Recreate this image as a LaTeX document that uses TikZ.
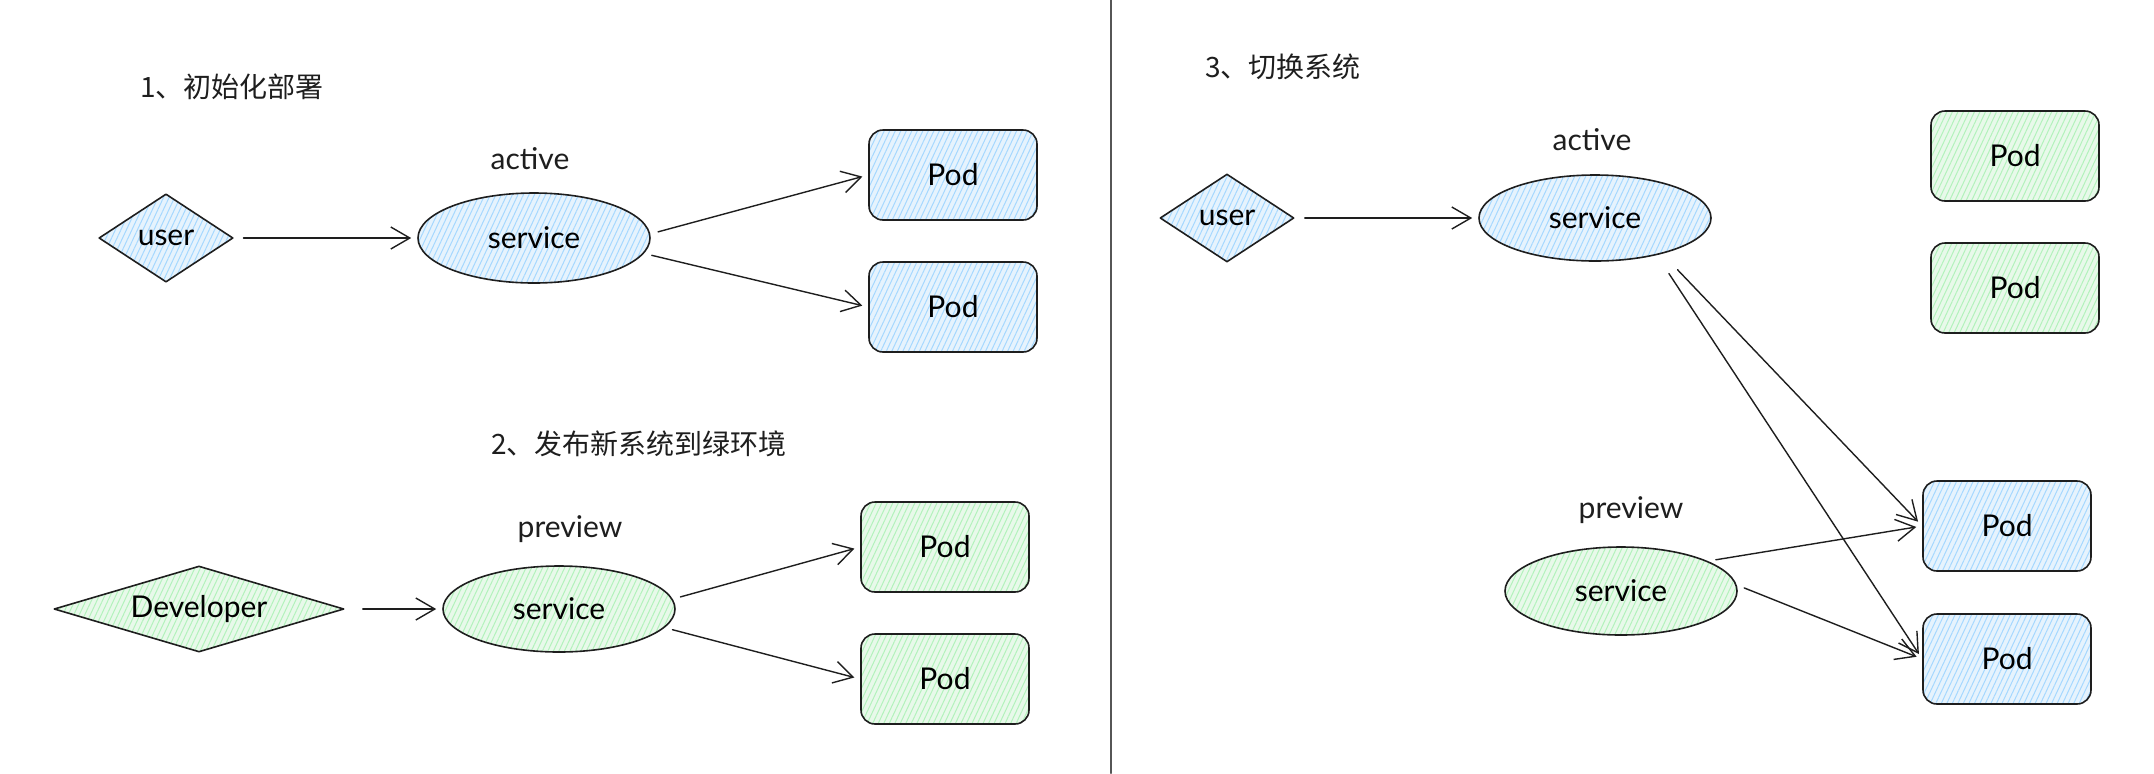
\documentclass[tikz,border=0pt]{standalone}
\usepackage{fontspec}
\setmainfont{Lato}
\newfontfamily\cjk{Noto Sans CJK SC}
\usepackage{tikz}
\usetikzlibrary{arrows.meta,shapes.geometric,patterns.meta}
\definecolor{ink}{HTML}{1E1E1E}
\definecolor{bluebg}{HTML}{E6F3FD}
\definecolor{bluehatch}{HTML}{A5D8FF}
\definecolor{greenbg}{HTML}{E8F9EA}
\definecolor{greenhatch}{HTML}{B2F2BB}
\tikzset{
  bluefill/.style={preaction={fill=bluebg}, pattern={Lines[angle=65,distance=2.5pt,line width=0.5pt]}, pattern color=bluehatch},
  greenfill/.style={preaction={fill=greenbg}, pattern={Lines[angle=65,distance=2.5pt,line width=0.5pt]}, pattern color=greenhatch},
  svc/.style={ellipse, draw=ink, line width=0.8pt, minimum width=116pt, minimum height=45pt, inner sep=0pt, font=\fontsize{15}{18}\selectfont},
  pod/.style={rectangle, rounded corners=7pt, draw=ink, line width=0.8pt, minimum width=84pt, minimum height=45pt, font=\fontsize{15}{18}\selectfont},
  usr/.style={diamond, draw=ink, line width=0.8pt, inner sep=0pt, aspect=1.5, minimum width=67pt, minimum height=44pt, font=\fontsize{15}{18}\selectfont},
  lbl/.style={text=ink, font=\fontsize{15}{18}\selectfont},
  ttl/.style={anchor=west, text=ink, font=\cjk\fontsize{14}{17}\selectfont},
  flow/.style={draw=ink, line width=0.7pt, -{Straight Barb[length=9.5pt,width=11pt]}, shorten <=4pt, shorten >=3pt},
  every picture/.style={line cap=round, line join=round}
}

\begin{document}
\begin{tikzpicture}[x=0.5pt, y=-0.5pt]
    \useasboundingbox (0,0) rectangle (2154,773);
    \draw[line width=1pt, draw=ink!75] (1111,0) -- (1111,773);

    % 1
    \node[ttl] (t1) at (133,87) {1、初始化部署};
    \node[usr, bluefill] (user1) at (166,238) {user};
    \node[svc, bluefill] (svc1) at (534,238) {service};
    \node[lbl] (act1) at (530,159) {active};
    \node[pod, bluefill] (pod1a) at (953,175) {Pod};
    \node[pod, bluefill] (pod1b) at (953,307) {Pod};

    \draw[flow, shorten <=5pt] (user1) -- (svc1);
    \draw[flow] (svc1.2) -- (pod1a.west);
    \draw[flow] (svc1.-8) -- (pod1b.west);

    % 2
    \node[ttl] (t2) at (484,444) {2、发布新系统到绿环境};
    \node[usr, greenfill, aspect=3.3, minimum width=145pt, minimum height=43pt] (dev) at (199,609) {Developer};
    \node[svc, greenfill, minimum height=43pt] (svc2) at (559,609) {service};
    \node[lbl] (prev2) at (570,529) {preview};
    \node[pod, greenfill] (pod2a) at (945,547) {Pod};
    \node[pod, greenfill] (pod2b) at (945,679) {Pod};

    \draw[flow, shorten <=9pt] (dev) -- (svc2);
    \draw[flow] (svc2.5) -- (pod2a.west);
    \draw[flow] (svc2.-10) -- (pod2b.west);

    % 3
    \node[ttl] (t3) at (1198,67) {3、切换系统};
    \node[usr, bluefill] (user3) at (1227,218) {user};
    \node[svc, bluefill, minimum height=43pt] (svc3) at (1595,218) {service};
    \node[lbl] (act3) at (1592,140) {active};
    \node[pod, greenfill] (pod3a) at (2015,156) {Pod};
    \node[pod, greenfill] (pod3b) at (2015,288) {Pod};
    \node[lbl] (prev3) at (1631,510) {preview};
    \node[svc, greenfill, minimum height=44pt] (svc4) at (1621,591) {service};
    \node[pod, bluefill] (pod3c) at (2007,526) {Pod};
    \node[pod, bluefill] (pod3d) at (2007,659) {Pod};

    \draw[flow, shorten <=5pt] (user3) -- (svc3);
    \draw[flow, shorten <=11pt] (svc3.-28) -- (pod3c.west);
    \draw[flow, shorten <=11pt] (svc3.-31) -- (pod3d.west);
    \draw[flow] (svc4.19) -- (pod3c.west);
    \draw[flow] (svc4.3) -- (pod3d.west);
\end{tikzpicture}
\end{document}
